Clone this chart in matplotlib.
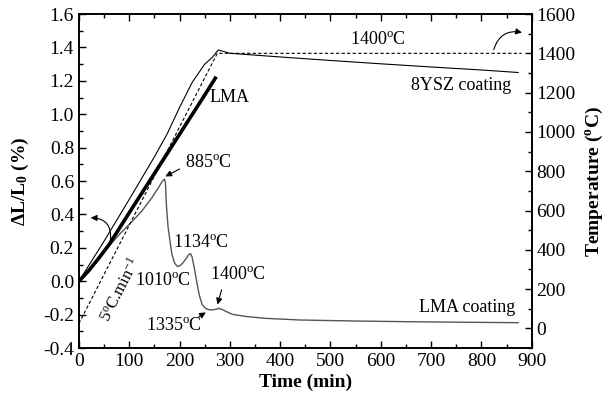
import matplotlib
matplotlib.use('Agg')
import matplotlib.pyplot as plt
from matplotlib.ticker import MultipleLocator, FormatStrFormatter

plt.rcParams['font.family'] = 'Liberation Serif'
plt.rcParams['mathtext.fontset'] = 'custom'
plt.rcParams['mathtext.rm'] = 'Liberation Serif'
plt.rcParams['mathtext.it'] = 'Liberation Serif:italic'
plt.rcParams['mathtext.bf'] = 'Liberation Serif:bold'
plt.rcParams['axes.unicode_minus'] = False

# 8YSZ coating, dL/L0 (%)
ysz_t = [0, 50, 100, 150, 175, 200, 225, 250, 265, 277, 300, 400, 500, 600, 700, 800, 873]
ysz_v = [0, 0.24, 0.49, 0.745, 0.88, 1.04, 1.19, 1.30, 1.34, 1.385, 1.365, 1.343, 1.322,
         1.302, 1.283, 1.265, 1.25]

# LMA bulk, dL/L0 (%)
lma_t = [0, 20, 40, 60, 100, 150, 200, 250, 273]
lma_v = [0, 0.065, 0.14, 0.22, 0.41, 0.645, 0.88, 1.115, 1.225]

# LMA coating, dL/L0 (%)
coat_t = [0, 40, 80, 100, 125, 145, 158, 166, 170,
          172, 174, 177, 181, 185, 190, 196, 202, 208, 214, 219, 222, 225, 229, 234,
          239, 245, 252, 258, 265, 272, 278, 284, 292, 305, 330, 370, 440, 550, 650,
          750, 873]
coat_v = [0, 0.14, 0.28, 0.34, 0.42, 0.50, 0.56, 0.60, 0.612,
          0.59, 0.45, 0.33, 0.24, 0.16, 0.11, 0.088, 0.095, 0.115, 0.14, 0.162, 0.165,
          0.145, 0.085, 0.0, -0.08, -0.14, -0.163, -0.17, -0.172, -0.168, -0.162,
          -0.168, -0.18, -0.198, -0.21, -0.222, -0.232, -0.238, -0.242, -0.245, -0.248]

# furnace program, 5 C/min up to 1400 C
temp_t = [0, 275, 880]
temp_c = [25, 1400, 1400]

fig = plt.figure(figsize=(6.07, 4.01), dpi=100)
ax = fig.add_axes([0.130, 0.132, 0.746, 0.833])
ax2 = ax.twinx()

ax.plot(ysz_t, ysz_v, color='black', lw=0.8)
ax.plot(coat_t, coat_v, color='#555555', lw=1.0)
ax.plot(lma_t, lma_v, color='black', lw=2.6, solid_capstyle='butt')
ax2.plot(temp_t, temp_c, color='black', lw=0.8, ls=(0, (3, 2)))

ax.set_xlim(0, 900)
ax.set_ylim(-0.4, 1.6)
ax2.set_ylim(-100, 1600)

ax.xaxis.set_major_locator(MultipleLocator(100))
ax.xaxis.set_minor_locator(MultipleLocator(50))
ax.yaxis.set_major_locator(MultipleLocator(0.2))
ax.yaxis.set_minor_locator(MultipleLocator(0.1))
ax.yaxis.set_major_formatter(FormatStrFormatter('%.1f'))
ax2.yaxis.set_major_locator(MultipleLocator(200))
ax2.yaxis.set_minor_locator(MultipleLocator(100))
ax2.set_yticks([0, 200, 400, 600, 800, 1000, 1200, 1400, 1600])

ax.tick_params(which='both', direction='in', top=True, right=False, labelsize=14, width=1.0)
ax.tick_params(which='major', length=5)
ax.tick_params(which='minor', length=3)
ax2.tick_params(which='both', direction='in', labelsize=14, width=1.0)
ax2.tick_params(which='major', length=5)
ax2.tick_params(which='minor', length=3)
for a in (ax, ax2):
    for s in a.spines.values():
        s.set_linewidth(1.2)

ax.set_xlabel('Time (min)', fontsize=14, fontweight='bold', labelpad=3)
ax.set_ylabel('ΔL/L$_\\mathbf{0}$ (%)', fontsize=14, fontweight='bold', labelpad=9)
ax2.set_ylabel('Temperature ($^\\mathbf{o}$C)', fontsize=14, fontweight='bold', labelpad=6)

deg = '$^{\\rm o}$C'
ax.text(594, 1.445, '1400' + deg, fontsize=13, ha='center', va='center')
ax.text(760, 1.175, '8YSZ coating', fontsize=13, ha='center', va='center')
ax.text(260, 1.10, 'LMA', fontsize=13, ha='left', va='center')
ax.text(211, 0.71, '885' + deg, fontsize=13, ha='left', va='center')
ax.text(242, 0.23, '1134' + deg, fontsize=13, ha='center', va='center')
ax.text(167, 0.005, '1010' + deg, fontsize=13, ha='center', va='center')
ax.text(316, 0.04, '1400' + deg, fontsize=13, ha='center', va='center')
ax.text(189, -0.262, '1335' + deg, fontsize=13, ha='center', va='center')
ax.text(772, -0.16, 'LMA coating', fontsize=13, ha='center', va='center')
ax.text(82, -0.05, '5' + deg + '.min$^{-1}$', fontsize=12, ha='center', va='center',
        rotation=63)

arrow = dict(arrowstyle='-|>', color='black', lw=0.8, mutation_scale=9)
ax.annotate('', xy=(167, 0.62), xytext=(205, 0.68), arrowprops=arrow)
ax.annotate('', xy=(274, -0.155), xytext=(285, -0.035), arrowprops=arrow)
ax.annotate('', xy=(257, -0.178), xytext=(234, -0.22), arrowprops=arrow)
ax.annotate('', xy=(18, 0.38), xytext=(62, 0.23),
            arrowprops=dict(arrow, connectionstyle='arc3,rad=0.6'))
ax.annotate('', xy=(886, 1.486), xytext=(823, 1.37),
            arrowprops=dict(arrow, connectionstyle='arc3,rad=-0.5'))

fig.savefig('out.png', dpi=100)
